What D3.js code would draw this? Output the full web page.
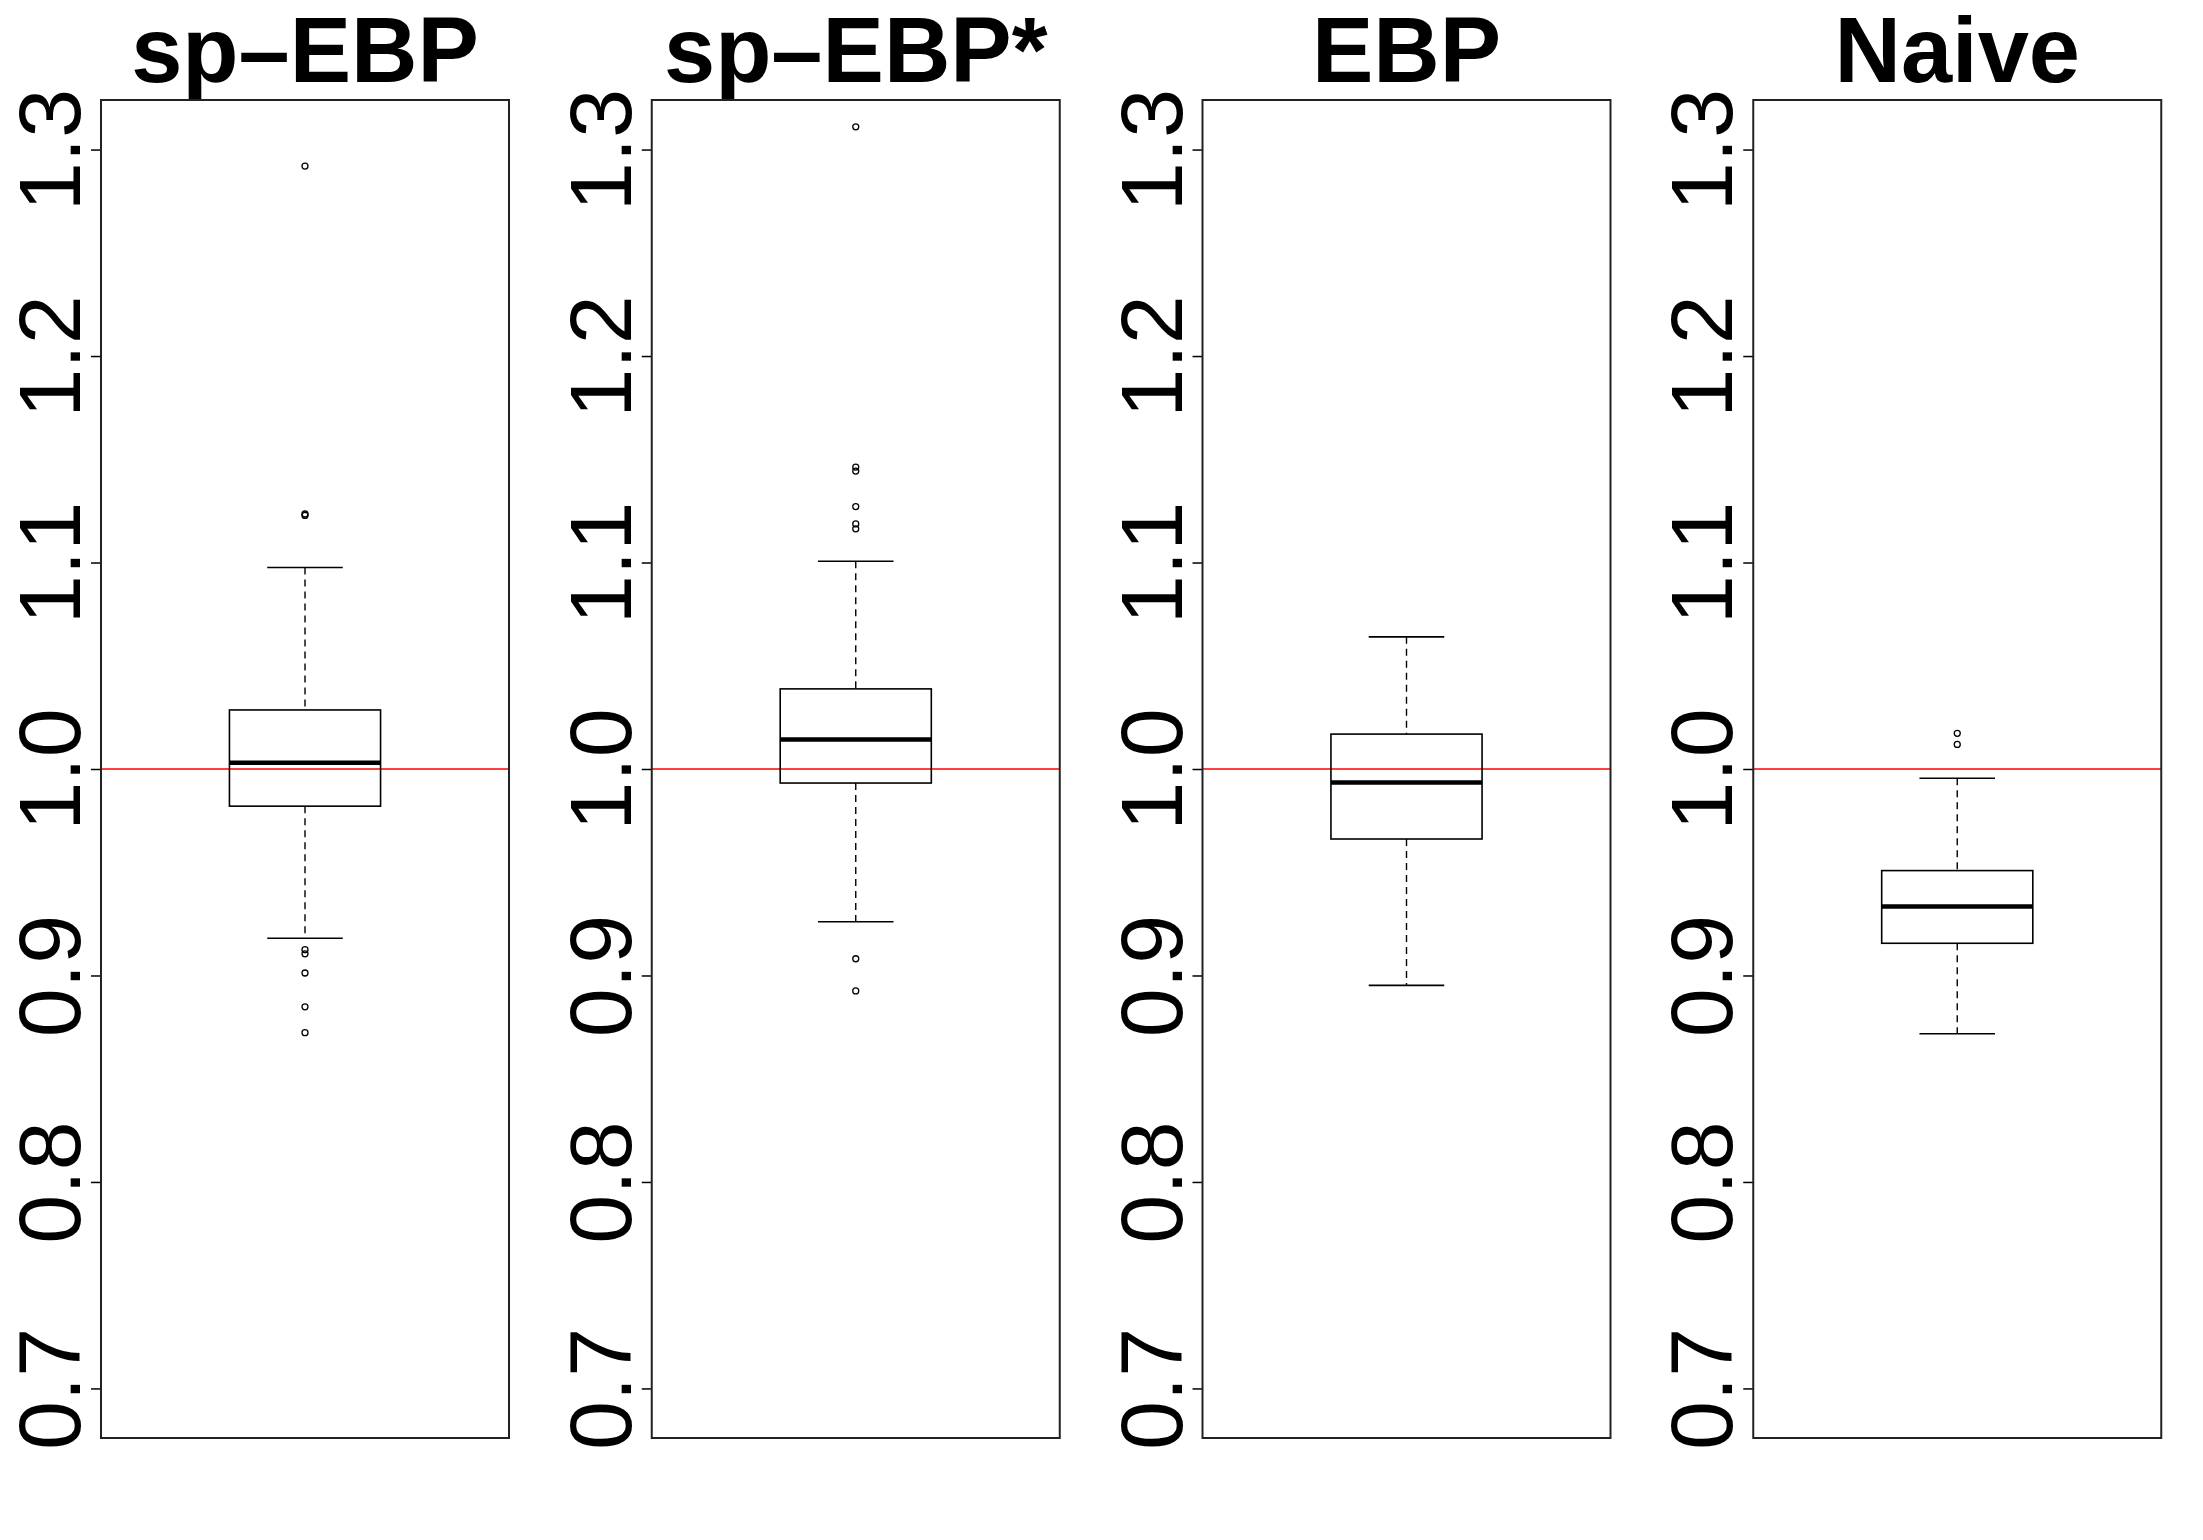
<!DOCTYPE html>
<html>
<head>
<meta charset="utf-8">
<script src="https://cdn.jsdelivr.net/npm/d3@7"></script>
<style>
    body { margin: 0; background: #fff; }
    svg { display: block; }
    text { font-family: "Liberation Sans", Arial, Helvetica, sans-serif; }
</style>
</head>
<body>
<svg id="chart"></svg>
<script>
// box summaries, one entry per method
const methods = ["sp\u2013EBP", "sp\u2013EBP*", "EBP", "Naive"];
const whiskerLow = [0.918, 0.926, 0.8952, 0.8718];
const q1 = [0.982, 0.9932, 0.9661, 0.9156];
const medians = [1.003, 1.0143, 0.9935, 0.9334];
const q3 = [1.0286, 1.0388, 1.0169, 0.9508];
const whiskerHigh = [1.0976, 1.1006, 1.064, 0.9955];
const outliers = [
    [1.292, 1.1235, 1.1228, 0.9125, 0.9105, 0.9012, 0.8848, 0.8723],
    [1.311, 1.1462, 1.1443, 1.1271, 1.1187, 1.1163, 0.9081, 0.8925],
    [],
    [1.0173, 1.0119]
];
const yTicks = [0.7, 0.8, 0.9, 1.0, 1.1, 1.2, 1.3];
const refValue = 1.0;

const width = 2203;
const height = 1540;
const panelWidth = width / methods.length;

const plotLeft = 101;
const plotWidth = 408;
const plotTop = 100;
const plotBottom = 1438;

const svg = d3.select('#chart').attr('width', width).attr('height', height);

// same y range in every panel (0.7 - 1.3 with R's 4% padding)
const y = d3.scaleLinear()
    .domain([0.7 - 0.024, 1.3 + 0.024])
    .range([plotBottom, plotTop]);

methods.forEach(function (name, i) {
    const g = svg.append('g')
        .attr('transform', 'translate(' + (i * panelWidth) + ',0)');

    const x = d3.scaleLinear()
        .domain([0.46, 1.54])
        .range([plotLeft, plotLeft + plotWidth]);

    // title
    g.append('text')
        .attr('x', x(1))
        .attr('y', 82)
        .attr('text-anchor', 'middle')
        .attr('font-size', 92)
        .attr('font-weight', 'bold')
        .text(name);

    // y axis with rotated labels
    const axis = g.append('g')
        .attr('transform', 'translate(' + plotLeft + ',0)')
        .call(d3.axisLeft(y).tickValues(yTicks).tickSize(10).tickPadding(0)
            .tickFormat(d3.format('.1f')));
    axis.select('.domain').remove();
    axis.selectAll('.tick line').attr('stroke', '#000').attr('stroke-width', 1.5);
    axis.selectAll('.tick text')
        .attr('x', 0)
        .attr('dy', null)
        .attr('transform', 'translate(-21,0) rotate(-90)')
        .attr('text-anchor', 'middle')
        .attr('font-size', 88)
        .attr('fill', '#000');

    // reference line
    g.append('line')
        .attr('x1', x.range()[0])
        .attr('x2', x.range()[1])
        .attr('y1', y(refValue))
        .attr('y2', y(refValue))
        .attr('stroke', '#ff0000')
        .attr('stroke-width', 1.5);

    const half = x(1.2) - x(1);
    const capHalf = x(1.1) - x(1);
    const cx = x(1);

    // whiskers
    [[whiskerHigh[i], q3[i]], [q1[i], whiskerLow[i]]].forEach(function (w) {
        g.append('line')
            .attr('x1', cx).attr('x2', cx)
            .attr('y1', y(w[0])).attr('y2', y(w[1]))
            .attr('stroke', '#000')
            .attr('stroke-width', 1.4)
            .attr('stroke-dasharray', '7,5');
    });
    [whiskerHigh[i], whiskerLow[i]].forEach(function (v) {
        g.append('line')
            .attr('x1', cx - capHalf).attr('x2', cx + capHalf)
            .attr('y1', y(v)).attr('y2', y(v))
            .attr('stroke', '#000')
            .attr('stroke-width', 1.6);
    });

    // box
    g.append('rect')
        .attr('x', cx - half)
        .attr('y', y(q3[i]))
        .attr('width', 2 * half)
        .attr('height', y(q1[i]) - y(q3[i]))
        .attr('fill', 'none')
        .attr('stroke', '#000')
        .attr('stroke-width', 1.6);

    g.append('line')
        .attr('x1', cx - half).attr('x2', cx + half)
        .attr('y1', y(medians[i])).attr('y2', y(medians[i]))
        .attr('stroke', '#000')
        .attr('stroke-width', 4.5);

    // outliers
    g.selectAll('circle.out')
        .data(outliers[i])
        .enter().append('circle')
        .attr('class', 'out')
        .attr('cx', cx)
        .attr('cy', function (d) { return y(d) })
        .attr('r', 3)
        .attr('fill', 'none')
        .attr('stroke', '#000')
        .attr('stroke-width', 1.3);

    // frame
    g.append('rect')
        .attr('x', plotLeft)
        .attr('y', plotTop)
        .attr('width', plotWidth)
        .attr('height', plotBottom - plotTop)
        .attr('fill', 'none')
        .attr('stroke', '#222')
        .attr('stroke-width', 2);
});
</script>
</body>
</html>
